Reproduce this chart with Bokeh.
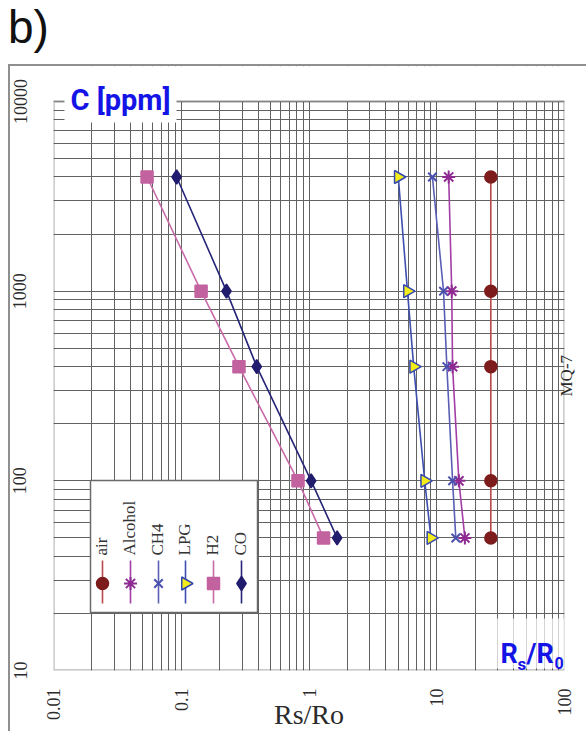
import math
from bokeh.plotting import figure
from bokeh.models import (FixedTicker, Label, BoxAnnotation, Div, CustomJSTickFormatter,
                          LogAxis)
from bokeh.layouts import column
from bokeh.core.properties import value
from bokeh.embed import file_html
from bokeh.resources import INLINE

# ---------------- data ----------------
ppm = [50, 100, 400, 1000, 4000]
air = [26.5, 26.5, 26.5, 26.5, 26.5]
alcohol = [16.6, 14.9, 13.3, 13.1, 12.4]
ch4 = [14.1, 13.3, 12.0, 11.3, 9.25]
lpg = [9.0, 8.05, 6.6, 5.9, 5.0]
h2 = [1.30, 0.82, 0.283, 0.143, 0.054]
co = [1.66, 1.04, 0.39, 0.226, 0.092]
series_names = ["air", "Alcohol", "CH4", "LPG", "H2", "CO"]
x_ticks = [0.01, 0.1, 1, 10, 100]
x_tick_labels = ["0.01", "0.1", "1", "10", "100"]
y_ticks = [10, 100, 1000, 10000]
y_tick_labels = ["10", "100", "1000", "10000"]

# ---------------- layout helpers (page pixels -> data) ----------------
FX0, FX1, FY0, FY1 = 53, 564, 101, 670     # inner chart box on the page
CANVAS_TOP = 66
X_LO, X_HI, Y_LO, Y_HI = 0.01, 100, 10, 10000


def dx(px):
    a, b = math.log10(X_LO), math.log10(X_HI)
    return 10 ** (a + (px - FX0) / (FX1 - FX0) * (b - a))


def dy(py):
    a, b = math.log10(Y_LO), math.log10(Y_HI)
    return 10 ** (a + (FY1 - py) / (FY1 - FY0) * (b - a))


SERIF = value("Liberation Serif")
BOLD = "Roboto"
BLUE = "#1414e6"

p = figure(width=578, height=667, x_axis_type="log", y_axis_type="log",
           x_range=(X_LO, X_HI), y_range=(Y_LO, dy(CANVAS_TOP)),
           output_backend="svg", toolbar_location=None,
           min_border_left=43, min_border_right=24, min_border_top=0,
           min_border_bottom=63, margin=(0, 0, 0, 8),
           background_fill_color="white", border_fill_color="white",
           styles={"border-top": "2px solid #8f8f8f", "border-left": "2px solid #8f8f8f"})

p.outline_line_color = None

# grid on every log minor step
xg = [m * 10 ** k for k in range(-2, 2) for m in range(1, 10)] + [100]
yg = [m * 10 ** k for k in range(1, 4) for m in range(1, 10)] + [10000]
p.xgrid.ticker = FixedTicker(ticks=xg)
p.ygrid.ticker = FixedTicker(ticks=yg)
for g in (p.xgrid, p.ygrid):
    g.grid_line_color = "#626262"
    g.grid_line_width = 1

fmt_code = "const i = tv.indexOf(tick); return i >= 0 ? tl[i] : '';"
p.xaxis.ticker = FixedTicker(ticks=x_ticks)
p.xaxis.formatter = CustomJSTickFormatter(args=dict(tv=x_ticks, tl=x_tick_labels), code=fmt_code)
p.yaxis.ticker = FixedTicker(ticks=y_ticks)
p.yaxis.formatter = CustomJSTickFormatter(args=dict(tv=y_ticks, tl=y_tick_labels), code=fmt_code)
p.xaxis.major_label_orientation = math.pi / 2
p.yaxis.major_label_orientation = "parallel"
p.xaxis.major_label_standoff = 18
p.yaxis.major_label_standoff = 27
p.yaxis.axis_label_standoff = 0
for ax in (p.xaxis, p.yaxis):
    ax.axis_line_color = None
    ax.major_tick_line_color = None
    ax.minor_tick_line_color = None
    ax.major_tick_out = 0
    ax.minor_tick_out = 0
    ax.major_label_text_font = "Liberation Serif"
    ax.major_label_text_font_size = "18px"
    ax.major_label_text_color = "#2b2b2b"

p.xaxis.axis_label = "Rs/Ro"
p.xaxis.axis_label_standoff = -24
p.xaxis.axis_label_text_font = "Liberation Serif"
p.xaxis.axis_label_text_font_style = "normal"
p.xaxis.axis_label_text_font_size = "28px"
p.xaxis.axis_label_text_color = "#2b2b2b"

# right side caption as a single-label axis
mq = LogAxis(ticker=FixedTicker(ticks=[dy(396)]),
             formatter=CustomJSTickFormatter(code="return 'MQ-7';"),
             major_label_orientation=math.pi / 2, major_label_standoff=2,
             major_tick_out=0, minor_tick_out=0, axis_label_standoff=0,
             axis_line_color=None, major_tick_line_color=None, minor_tick_line_color=None,
             major_label_text_font="Liberation Serif", major_label_text_font_size="17px",
             major_label_text_color="#2b2b2b")
p.add_layout(mq, "right")

# ---------------- series ----------------
series = [
    dict(vals=air, line="#bb4a4a", marker="circle", size=12, fill="#7d1c1c", edge="#7d1c1c", angle=0),
    dict(vals=alcohol, line="#a23ea6", marker="asterisk", size=13, fill="#8e2a92", edge="#8e2a92", angle=0),
    dict(vals=ch4, line="#5a5fb5", marker="x", size=12, fill="#4a50ad", edge="#4a50ad", angle=0),
    dict(vals=lpg, line="#3e4fae", marker="triangle", size=13, fill="#f2ec1a", edge="#3447b0", angle=-math.pi / 2),
    dict(vals=h2, line="#c86ba8", marker="square", size=12, fill="#c2629f", edge="#c2629f", angle=0),
    dict(vals=co, line="#262577", marker="diamond", size=14, fill="#211c6e", edge="#211c6e", angle=0),
]
for s in series:
    p.line(s["vals"], ppm, line_color=s["line"], line_width=1.6)
    p.scatter(s["vals"], ppm, marker=s["marker"], size=s["size"], fill_color=s["fill"],
              line_color=s["edge"], line_width=2 if s["marker"] in ("x", "asterisk") else 1.5,
              angle=s["angle"])

# ---------------- custom vertical legend ----------------
p.quad(left=[dx(90)], right=[dx(257)], top=[dy(480)], bottom=[dy(612)],
       fill_color="white", line_color="#6a6a6a", line_width=1.5)
cols_px = [102, 130, 158, 185, 213, 241]
for s, cx, name in zip(series, cols_px, series_names):
    p.segment(x0=[dx(cx)], y0=[dy(560)], x1=[dx(cx)], y1=[dy(603)],
              line_color=s["line"], line_width=1.6)
    p.scatter([dx(cx)], [dy(583)], marker=s["marker"], size=s["size"], fill_color=s["fill"],
              line_color=s["edge"], line_width=2 if s["marker"] in ("x", "asterisk") else 1.5,
              angle=s["angle"])
    p.text(x=[dx(cx - 1)], y=[dy(555)], text=[name], angle=math.pi / 2,
           text_align="left", text_baseline="middle", text_font=SERIF,
           text_font_size="17px", text_color="#333333")

# ---------------- overlays ----------------
# blank area above the chart box (top of the extended frame)
p.add_layout(BoxAnnotation(bottom=Y_HI, fill_color="white", fill_alpha=1.0, line_color=None))
# chart box border
p.add_layout(BoxAnnotation(left=X_LO, right=X_HI, bottom=Y_LO, top=Y_HI, fill_alpha=0,
                           line_color="#1e1e1e", line_width=2.4))

p.add_layout(Label(x=dx(64), y=dy(99), text="C [ppm]", text_align="left",
                   text_baseline="middle", text_font=BOLD, text_font_style="bold",
                   text_font_size="29px", text_color=BLUE,
                   background_fill_color="white", padding=6))

p.add_layout(BoxAnnotation(left=dx(495), right=X_HI, top=dy(618), bottom=dy(668),
                           fill_color="white", fill_alpha=0.72, line_color=None))
for txt, px, py, fs in [("R", 500, 653, "27px"), ("s", 517, 663, "17px"),
                        ("/R", 526, 653, "27px"), ("0", 554, 662, "16px")]:
    p.add_layout(Label(x=dx(px), y=dy(py), text=txt, text_align="left",
                       text_baseline="alphabetic", text_font=BOLD, text_font_style="bold",
                       text_font_size=fs, text_color=BLUE))

head = Div(text='<div style="margin:4px 0 0 8px; font-family:\'Liberation Sans\', Arial, sans-serif; '
                'font-size:46px; line-height:46px; color:#111;">b)</div>',
           width=588, height=64, margin=0)

layout = column(head, p, margin=0, spacing=0)
open("out.html", "w").write(file_html(layout, INLINE))
